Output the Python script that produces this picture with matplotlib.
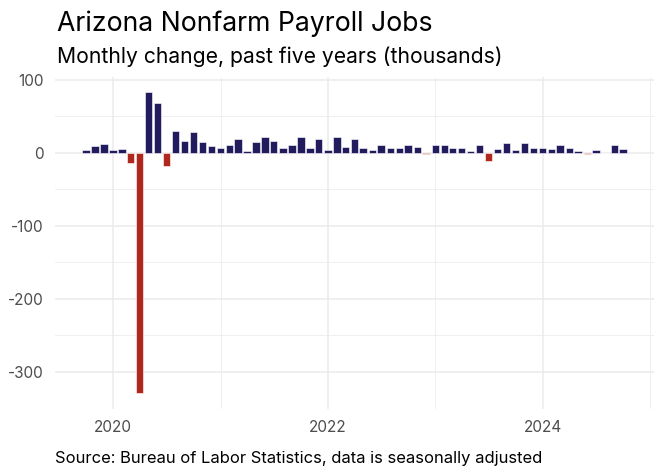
import matplotlib
matplotlib.use("Agg")
import matplotlib.pyplot as plt
import matplotlib.dates as mdates
import pandas as pd

# Monthly change in Arizona nonfarm payroll jobs (thousands), Oct 2019 - Oct 2024
start_month = "2019-10-01"
changes = [
    4, 9, 12,
    4, 5, -14, -330, 83, 68, -19, 30, 16, 28, 15, 9,
    7, 10, 19, 2, 14, 22, 16, 6, 10, 22, 7, 18,
    4, 22, 8, 18, 7, 4, 11, 6, 6, 11, 8, -2,
    11, 10, 7, 7, 2, 11, -11, 5, 13, 3, 13, 7,
    7, 5, 10, 7, 2, -2, 3, -1, 11, 5,
]
months = pd.date_range(start_month, periods=len(changes), freq="MS")

title = "Arizona Nonfarm Payroll Jobs"
subtitle = "Monthly change, past five years (thousands)"
caption = "Source: Bureau of Labor Statistics, data is seasonally adjusted"

pos_color = "#221c5e"
neg_color = "#b0281d"
grid_color = "#ebebeb"

plt.rcParams["font.family"] = ["Inter", "DejaVu Sans"]
plt.rcParams["axes.unicode_minus"] = False

W, H = 654, 469
fig = plt.figure(figsize=(W / 100, H / 100), dpi=100, facecolor="white")
ax = fig.add_axes([55 / W, 60.5 / H, (654 - 55) / W, (408.5 - 77) / H])

colors = [pos_color if v >= 0 else neg_color for v in changes]
ax.bar(months, changes, width=25, color=colors, edgecolor="white",
       linewidth=0.4, zorder=2)

ax.margins(x=0.05, y=0.05)

# Gridlines
ax.set_yticks([-300, -200, -100, 0, 100])
ax.set_yticks([-250, -150, -50, 50], minor=True)
ax.xaxis.set_major_locator(mdates.YearLocator(2))
ax.xaxis.set_minor_locator(mdates.YearLocator(1))
ax.xaxis.set_major_formatter(mdates.DateFormatter("%Y"))
ax.grid(True, which="major", color=grid_color, linewidth=1.1, zorder=0)
ax.grid(True, which="minor", color=grid_color, linewidth=0.55, zorder=0)
ax.set_axisbelow(True)

for s in ax.spines.values():
    s.set_visible(False)
ax.tick_params(which="both", length=0)
ax.tick_params(axis="y", labelsize=11, labelcolor="#4d4d4d", pad=8)
ax.tick_params(axis="x", labelsize=11, labelcolor="#4d4d4d", pad=8)

fig.text(57 / W, 1 - 31 / H, title, fontsize=19.2, color="black",
         ha="left", va="baseline")
fig.text(57 / W, 1 - 62.7 / H, subtitle, fontsize=15.2, color="black",
         ha="left", va="baseline")
fig.text(55 / W, 1 - 463.3 / H, caption, fontsize=11.95, color="black",
         ha="left", va="baseline")

fig.savefig("out.png", dpi=100, facecolor="white")
